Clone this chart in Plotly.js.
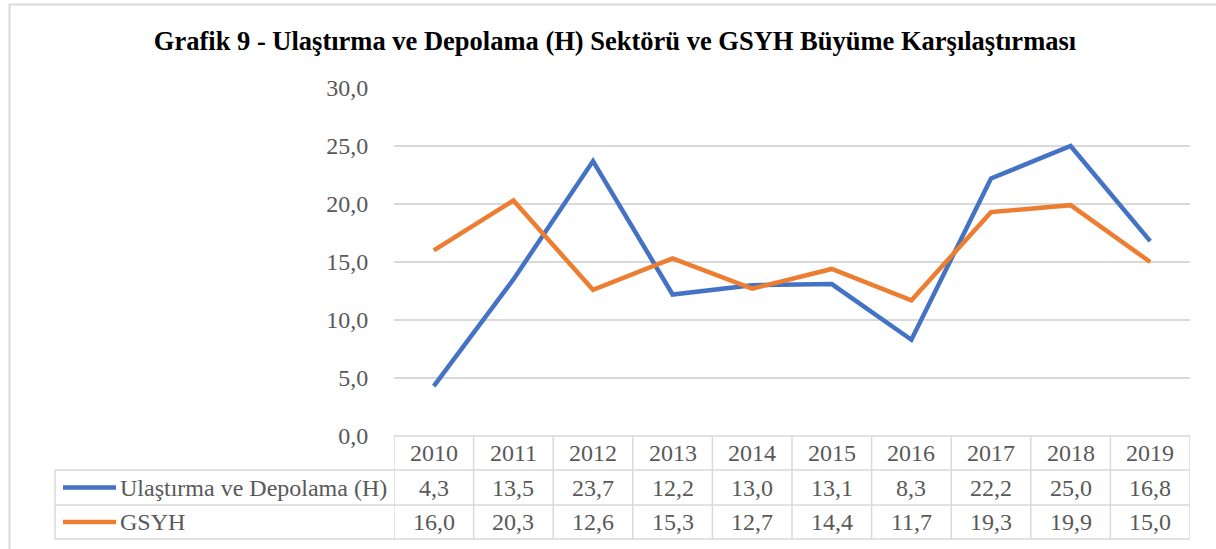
<!DOCTYPE html>
<html>
<head>
<meta charset="utf-8">
<script src="https://cdn.plot.ly/plotly-3.0.1.min.js"></script>
<style>html,body{margin:0;padding:0;background:#fff;}#chart{width:1216px;height:549px;}</style>
</head>
<body>
<div id="chart"></div>
<script>
const years = ['2010','2011','2012','2013','2014','2015','2016','2017','2018','2019'];
const transport = [4.3, 13.5, 23.7, 12.2, 13.0, 13.1, 8.3, 22.2, 25.0, 16.8];
const gsyh = [16.0, 20.3, 12.6, 15.3, 12.7, 14.4, 11.7, 19.3, 19.9, 15.0];
const seriesNames = ['Ulaştırma ve Depolama (H)', 'GSYH'];
const seriesColors = ['#4472C4', '#ED7D31'];
const titleText = 'Grafik 9 - Ulaştırma ve Depolama (H) Sektörü ve GSYH Büyüme Karşılaştırması';

const W = 1216, H = 549;
const L = 394, R = 1190, T = 88, B = 436;
const px = x => (x - L) / (R - L);
const py = y => (B - y) / (B - T);
const FONT = 'Liberation Serif';
const GRID = '#d9d9d9';
const TXT = '#595959';
const FS = 24;
const fmt = v => v.toFixed(1).replace('.', ',');

const idx = years.map((_, i) => i);
const traces = [transport, gsyh].map((s, k) => ({
  type: 'scatter', mode: 'lines', x: idx, y: s, name: seriesNames[k],
  line: {color: seriesColors[k], width: 4.5}, hoverinfo: 'skip'
}));

const shapes = [];
const line = (x0, y0, x1, y1) => shapes.push({type: 'line', xref: 'paper', yref: 'paper',
  x0: x0, y0: py(y0), x1: x1, y1: py(y1), line: {color: GRID, width: 1.5}, layer: 'above'});
// outer border
shapes.push({type: 'rect', xref: 'paper', yref: 'paper', x0: px(9.5), y0: py(4.5), x1: px(1225), y1: py(560),
  line: {color: '#d9d9d9', width: 2}, fillcolor: 'rgba(0,0,0,0)', layer: 'below'});
// table horizontal lines
line(px(L), 436, px(R), 436);
[470, 505, 539].forEach(y => line(px(55), y, px(R), y));
// vertical lines
for (let i = 0; i <= years.length; i++) {
  shapes.push({type: 'line', xref: 'x', yref: 'paper', x0: i - 0.5, x1: i - 0.5, y0: py(436), y1: py(539),
    line: {color: GRID, width: 1.5}});
}
line(px(55), 470, px(55), 539);
// legend keys
[487.5, 522].forEach((y, k) => shapes.push({type: 'line', xref: 'paper', yref: 'paper',
  x0: px(63), x1: px(116), y0: py(y), y1: py(y), line: {color: seriesColors[k], width: 4.5}}));

const annotations = [];
const rowCenters = [453, 487.5, 522];
const cellFont = {family: FONT, size: FS, color: TXT};
years.forEach((yr, i) => {
  [yr, fmt(transport[i]), fmt(gsyh[i])].forEach((t, r) => annotations.push({xref: 'x', yref: 'paper', x: i,
    y: py(rowCenters[r]), text: t, showarrow: false, font: cellFont, xanchor: 'center', yanchor: 'middle'}));
});
seriesNames.forEach((n, k) => annotations.push({xref: 'paper', yref: 'paper', x: px(118), y: py(rowCenters[k + 1]),
  text: n, showarrow: false, font: cellFont, xanchor: 'left', yanchor: 'middle'}));

const layout = {
  width: W, height: H,
  font: {family: FONT, color: TXT},
  margin: {l: L, r: W - R, t: T, b: H - B, pad: 0},
  paper_bgcolor: '#fff', plot_bgcolor: '#fff',
  separators: ',.',
  showlegend: false,
  title: {text: '<b>' + titleText + '</b>', x: 615 / W, xref: 'container', xanchor: 'center',
    y: 1 - 41 / H, yref: 'container', yanchor: 'middle',
    font: {family: FONT, size: 26.5, color: '#000'}},
  xaxis: {range: [-0.5, years.length - 0.5], showgrid: false, zeroline: false, showticklabels: false,
    showline: false, ticks: '', fixedrange: true},
  yaxis: {range: [0, 30], dtick: 5, tick0: 0, tickformat: '.1f', showgrid: true, gridcolor: GRID, gridwidth: 1.5,
    zeroline: false, showline: false, ticks: 'outside', ticklen: 20, tickcolor: 'rgba(0,0,0,0)',
    tickfont: {family: FONT, size: FS, color: TXT}, fixedrange: true},
  shapes: shapes, annotations: annotations
};
Plotly.newPlot('chart', traces, layout, {displayModeBar: false, staticPlot: true});
</script>
</body>
</html>
